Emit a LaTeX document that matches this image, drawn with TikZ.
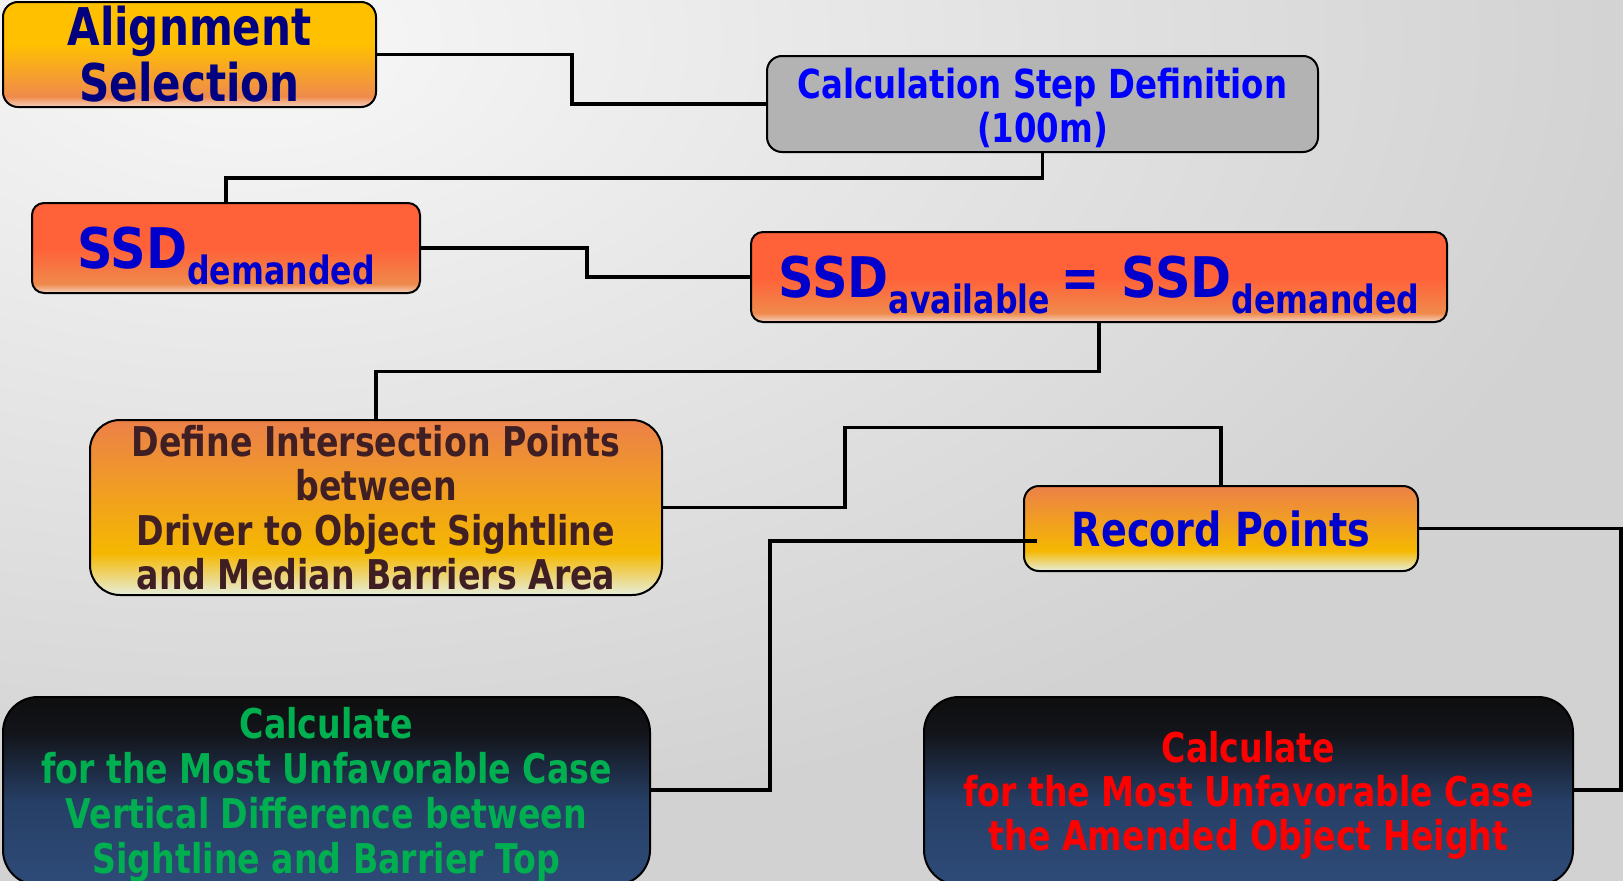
\documentclass[tikz,border=0pt]{standalone}
\usepackage{fontspec}
\newfontfamily\boxfont{DejaVu Sans}[FakeStretch=0.81]

% colours
\definecolor{bgLight}{HTML}{F8F8F8}
\definecolor{bgMid}{HTML}{E8E8E8}
\definecolor{bgDark}{HTML}{D2D2D2}
\definecolor{gold}{HTML}{FFC000}
\definecolor{warmOrange}{HTML}{EF8A4C}
\definecolor{paleBottom}{HTML}{F3D2C0}
\definecolor{redOrange}{HTML}{FF6138}
\definecolor{topOrange}{HTML}{EC8049}
\definecolor{amber}{HTML}{F5B800}
\definecolor{cream}{HTML}{E6EEDC}
\definecolor{nearBlack}{HTML}{0E0E0E}
\definecolor{nightA}{HTML}{13151B}
\definecolor{nightB}{HTML}{263F66}
\definecolor{steelBlue}{HTML}{2E4B78}
\definecolor{stepGrey}{HTML}{B3B3B3}
\definecolor{navyText}{HTML}{000080}
\definecolor{blueText}{HTML}{0000FF}
\definecolor{ssdText}{HTML}{0000CC}
\definecolor{maroonText}{HTML}{3F1F24}
\definecolor{greenText}{HTML}{00B050}
\definecolor{redText}{HTML}{FF0000}

% fills (bottom = 25bp, top = 75bp)
\pgfdeclareverticalshading{alignfill}{100bp}{color(0bp)=(paleBottom); color(25bp)=(paleBottom);
  color(30bp)=(warmOrange); color(55bp)=(gold); color(100bp)=(gold)}
\pgfdeclareverticalshading{ssdfill}{100bp}{color(0bp)=(paleBottom); color(25bp)=(paleBottom);
  color(30bp)=(warmOrange); color(50bp)=(redOrange); color(100bp)=(redOrange)}
\pgfdeclareverticalshading{amberfill}{100bp}{color(0bp)=(cream); color(25bp)=(cream);
  color(37bp)=(amber); color(75bp)=(topOrange); color(100bp)=(topOrange)}
\pgfdeclareverticalshading{nightfill}{100bp}{color(0bp)=(steelBlue); color(25bp)=(steelBlue);
  color(47bp)=(nightB); color(65bp)=(nightA); color(75bp)=(nearBlack); color(100bp)=(nearBlack)}
\pgfdeclareradialshading{backdrop}{\pgfpoint{0bp}{0bp}}{color(0bp)=(bgLight);
  color(10bp)=(bgMid); color(25bp)=(bgDark); color(50bp)=(bgDark)}

\newcommand{\subtxt}[1]{\raisebox{-16pt}{\fontsize{39}{39}\selectfont #1}}
\newcommand{\bigSSD}{\scalebox{1.09}[1]{SSD}}

\tikzset{
  box/.style={draw=black, line width=2pt, align=center, inner sep=2pt},
  wire/.style={draw=black, line width=3.2pt},
}

\begin{document}
\begin{tikzpicture}[x=1pt, y=-1pt]
\useasboundingbox (0,0) rectangle (1623,881);
\begin{scope}
  \clip (0,0) rectangle (1623,881);
  \fill[bgDark] (0,0) rectangle (1623,881);
  \shade[shading=backdrop] (250,40) ellipse (1400 and 800);
\end{scope}

% boxes
\node[box, shading=alignfill, rounded corners=15pt, minimum width=373pt, minimum height=105pt,
  font={\boxfont\bfseries\fontsize{52}{56}\selectfont}, text=navyText]
  (align) at (189.5,54.5) {Alignment\\Selection};

\node[box, fill=stepGrey, rounded corners=15pt, minimum width=551pt, minimum height=96pt,
  font={\boxfont\bfseries\fontsize{40}{44}\selectfont}, text=blueText]
  (calc) at (1042.5,104) {\rule{0pt}{38pt}Calculation Step Definition\\(100m)};

\node[box, shading=ssdfill, rounded corners=12pt, minimum width=388pt, minimum height=90pt,
  font={\boxfont\bfseries\fontsize{56}{56}\selectfont}, text=ssdText]
  (ssdd) at (226,248) {\rule{0pt}{58pt}\bigSSD\subtxt{demanded}};

\node[box, shading=ssdfill, rounded corners=12pt, minimum width=696pt, minimum height=90pt,
  font={\boxfont\bfseries\fontsize{56}{56}\selectfont}, text=ssdText]
  (ssda) at (1099,277) {\rule{0pt}{58pt}\bigSSD\subtxt{available}\hspace{12pt}=\hspace{22pt}\bigSSD\subtxt{demanded}};

\node[box, shading=amberfill, rounded corners=30pt, minimum width=572pt, minimum height=175pt,
  font={\boxfont\bfseries\fontsize{41}{44.5}\selectfont}, text=maroonText]
  (define) at (376,507.5) {Define Intersection Points\\between\\Driver to Object Sightline\\and Median Barriers Area};

\node[box, shading=amberfill, rounded corners=15pt, minimum width=394pt, minimum height=85pt,
  font={\boxfont\bfseries\fontsize{47}{47}\selectfont}, text=ssdText]
  (record) at (1221,528.5) {Record Points};

\node[box, shading=nightfill, rounded corners=35pt, minimum width=647pt, minimum height=188pt,
  font={\boxfont\bfseries\fontsize{41}{45}\selectfont}, text=greenText]
  (vert) at (326.5,791) {\rule{0pt}{39pt}Calculate\\for the Most Unfavorable Case\\Vertical Difference between\\Sightline and Barrier Top};

\node[box, shading=nightfill, rounded corners=35pt, minimum width=649pt, minimum height=188pt,
  font={\boxfont\bfseries\fontsize{41}{44}\selectfont}, text=redText]
  (amend) at (1248.5,791) {\rule{0pt}{39pt}Calculate\\for the Most Unfavorable Case\\the Amended Object Height};

% connectors
\draw[wire] (align.east) -- ++(195,0) |- (calc.west);
\draw[wire] (calc.south) -- ++(0,25) -| (ssdd.north);
\draw[wire] (ssdd.east) -- ++(166,0) |- (ssda.west);
\draw[wire] (ssda.south) -- ++(0,48.5) -| (define.north);
\draw[wire] (define.east) -- ++(182,0) -- ++(0,-80) -| (record.north);
\draw[wire] ([xshift=14pt,yshift=-12.5pt]record.west) -- ++(-267,0) |- ([yshift=1pt]vert.east);
\draw[wire] (record.east) -- ++(202,0) |- ([yshift=1pt]amend.east);
\end{tikzpicture}
\end{document}
